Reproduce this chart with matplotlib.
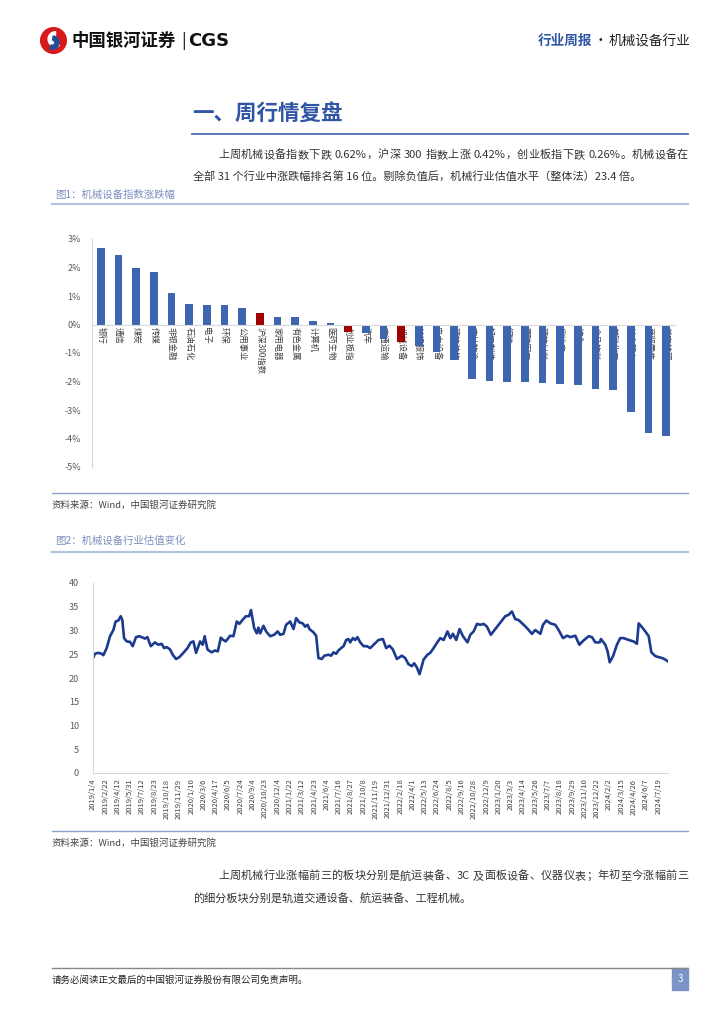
import re
import matplotlib
matplotlib.use('Agg')
import matplotlib.pyplot as plt
from matplotlib.lines import Line2D
from matplotlib.patches import Rectangle, Circle, Wedge

plt.rcParams['font.family'] = ['Noto Sans CJK SC', 'DejaVu Sans']

# 图1 data: weekly change by industry (%)
industries = ['银行', '通信', '煤炭', '传媒', '非银金融', '石油石化', '电子', '环保', '公用事业',
              '沪深300指数', '家用电器', '有色金属', '计算机', '医药生物', '创业板指', '汽车',
              '交通运输', '机械设备', '纺织服饰', '电力设备', '建筑装饰', '农林牧渔', '轻工制造',
              '钢铁', '国防军工', '建筑材料', '房地产', '综合', '食品饮料', '基础化工',
              '社会服务', '商贸零售', '美容护理']
chg = [2.70, 2.44, 1.97, 1.83, 1.10, 0.73, 0.68, 0.68, 0.57, 0.42, 0.28, 0.25, 0.11, 0.06,
       -0.26, -0.29, -0.50, -0.62, -0.75, -0.97, -1.25, -1.90, -1.99, -2.02, -2.02, -2.05,
       -2.10, -2.13, -2.28, -2.30, -3.07, -3.80, -3.92]
highlight = ['沪深300指数', '创业板指', '机械设备']

# 图2 data: PE (category position on the axis, value)
pe_pos = [0, 1.1, 3.0, 4.9, 5.9, 7.8, 9.7, 11.6, 12.9, 14.4, 15.8, 16.7, 17.7, 19.2, 21.1,
          22.6, 24.5, 26.4, 27.7, 29.6, 31.0, 32.9, 35.3, 37.2, 39.1, 40.5, 42.0, 43.9, 45.4,
          47.3, 49.2, 51.5, 53.8, 55.7, 57.2, 58.7, 61.0, 62.5, 63.6, 65.2, 67.6, 69.5, 71.1,
          72.8, 74.3, 75.6, 78.1, 80.0, 81.9, 83.4, 85.1, 87.0, 88.9, 90.0, 91.8, 93.3, 94.2,
          95.2, 97.1, 98.6, 100.9, 103.2, 105.2, 106.6, 108.5, 110.0, 112.3, 114.2, 115.7,
          117.6, 119.5, 120.8, 122.2, 123.3, 125.6, 127.1, 128.4, 130.3, 131.8, 134.1, 135.6,
          137.0, 138.5, 139.8, 141.3, 142.7, 144.2, 145.5, 146.5, 148.0, 149.3, 150.6, 152.2,
          154.1, 156.0,
          157.9, 159.8, 162.6, 165.1, 167.0, 168.9, 170.8, 173.1, 175.9, 177.8, 179.7, 181.6,
          182.9, 184.5, 186.0, 188.3, 190.5, 192.1, 194.0, 195.9, 197.8, 199.7, 201.9, 203.5,
          205.0, 206.9, 208.8, 210.7, 213.3, 214.9, 216.8, 218.7, 220.6, 222.5, 224.4, 226.6,
          229.1, 232.0, 234.8, 236.7, 238.6, 240.5, 242.4, 245.3, 247.2, 250.0, 251.9, 254.8,
          256.3, 258.2, 260.5, 263.3, 265.2, 267.7, 270.0, 271.9, 274.7, 277.0, 279.4, 282.3,
          284.2, 286.1, 288.6, 289.3, 291.8, 293.1, 294.3, 296.2, 298.4, 300.3, 302.2, 305.1,
          307.9, 309.8, 310.8, 312.7, 314.6, 316.5, 318.0, 320.3, 322.2, 324.1, 325.4, 327.5]
pe_val = [24.2, 25.1, 25.3, 25.1, 24.8, 26.3, 28.8, 30.1, 31.9, 32.1, 33.0, 32.2, 28.4, 27.7,
          27.6, 26.7, 28.6, 28.8, 28.6, 28.3, 28.6, 26.7, 27.5, 27.0, 27.2, 26.3, 26.5, 26.0,
          24.9, 24.0, 24.4, 25.3, 26.3, 27.5, 27.7, 25.3, 27.7, 27.0, 28.8, 26.0, 25.4, 25.8,
          25.6, 28.5, 28.0, 27.7, 28.9, 28.8, 31.9, 31.4, 32.2, 33.0, 33.0, 34.3, 30.5, 29.4,
          30.6, 29.4, 31.0, 29.8, 28.8, 29.1, 29.8, 29.1, 29.3, 31.2, 31.9, 30.3, 32.6, 31.7,
          31.5, 30.8, 31.2, 30.3, 29.6, 28.9, 24.2, 24.0, 24.7, 24.9, 24.7, 25.4, 25.1, 25.8,
          26.3, 26.7, 28.0, 28.2, 27.5, 28.4, 28.0, 28.6, 27.5, 26.7, 26.7,
          26.3, 27.0, 28.0, 28.2, 26.3, 26.8, 26.0, 24.0, 24.7, 24.2, 22.9, 22.5, 23.1, 22.2,
          20.8, 23.9, 24.9, 25.3, 26.3, 27.4, 28.4, 28.0, 29.8, 28.4, 29.3, 28.0, 30.3, 28.8,
          27.5, 29.1, 29.8, 31.4, 31.2, 31.4, 30.8, 29.1, 30.3, 31.7, 33.0, 33.3, 34.0, 32.4,
          32.2, 31.2, 30.5, 29.3, 30.1, 29.3, 31.2, 32.1, 31.5, 31.2, 30.1, 28.4, 28.9, 28.6,
          28.9, 27.0, 27.9, 28.8, 28.6, 27.5, 27.5, 28.2, 27.0, 25.6, 23.3, 24.6, 27.0, 28.4,
          28.4, 28.0, 27.7, 27.2, 31.5, 30.7, 29.8, 28.8, 25.4, 24.6, 24.4, 24.2, 24.0, 23.5]
date_labels = ['2019/1/4', '2019/2/22', '2019/4/12', '2019/5/31', '2019/7/12', '2019/8/23',
               '2019/10/18', '2019/11/29', '2020/1/10', '2020/3/6', '2020/4/17', '2020/6/5',
               '2020/7/24', '2020/9/4', '2020/10/23', '2020/12/4', '2021/1/22', '2021/3/12',
               '2021/4/23', '2021/6/4', '2021/7/16', '2021/8/27', '2021/10/8', '2021/11/19',
               '2021/12/31', '2022/2/18', '2022/4/1', '2022/5/13', '2022/6/24', '2022/8/5',
               '2022/9/16', '2022/10/28', '2022/12/9', '2023/1/20', '2023/3/3', '2023/4/14',
               '2023/5/26', '2023/7/7', '2023/8/18', '2023/9/29', '2023/11/10', '2023/12/22',
               '2024/2/2', '2024/3/15', '2024/4/26', '2024/6/7', '2024/7/19']
label_step = 7

W, H = 724, 1024
fig = plt.figure(figsize=(W / 100, H / 100), dpi=100)
BLUE = '#2f55a4'
TXT = '#333333'


def box(l, t, r, b):
    return [l / W, 1 - b / H, (r - l) / W, (b - t) / H]


def text(x, y, s, **kw):
    kw.setdefault('va', 'center')
    return fig.text(x / W, 1 - y / H, s, **kw)


def hline(x0, x1, y, color, lw):
    fig.add_artist(Line2D([x0 / W, x1 / W], [1 - y / H, 1 - y / H], color=color, lw=lw,
                          transform=fig.transFigure))


def justified(x0, x1, y, s, **kw):
    toks = re.findall(r'[A-Za-z0-9.%]+|.', s)
    r = fig.canvas.get_renderer()
    fs = kw.get('fontsize', 8)
    ws = []
    for t in toks:
        if t == ' ':
            ws.append(fs * 100 / 72 * 0.25)
            continue
        tt = text(0, 0, t, **kw)
        ws.append(tt.get_window_extent(r).width)
        tt.remove()
    gap = (x1 - x0 - sum(ws)) / (len(toks) - 1)
    x = x0
    for t, w in zip(toks, ws):
        if t != ' ':
            text(x, y, t, ha='left', **kw)
        x += w + gap


# header
logo = fig.add_axes(box(40, 27, 67, 54))
logo.set_xlim(-1, 1)
logo.set_ylim(-1, 1)
logo.set_aspect('equal')
logo.axis('off')
logo.add_patch(Circle((0, 0), 0.95, color='#d7191c'))
logo.add_patch(Wedge((0.15, 0.1), 0.55, 90, 300, width=0.28, color='white'))
logo.add_patch(Wedge((-0.1, -0.15), 0.5, 250, 80, width=0.3, color='#1f4e9c'))
text(71, 41, '中国银河证券', fontsize=12.5, fontweight='bold', color='#111111')
text(181, 41, '|', fontsize=12, color='#111111')
text(188, 41, 'CGS', fontsize=13, fontweight='bold', color='#111111', family='DejaVu Sans')
text(592, 41, '行业周报', fontsize=9.8, fontweight='bold', color=BLUE, ha='right')
text(600, 41, '·', fontsize=9.8, color='#222222', ha='center')
text(690, 41, '机械设备行业', fontsize=9.8, color='#222222', ha='right')

# title
text(192, 114, '一、周行情复盘', fontsize=15.5, fontweight='bold', color=BLUE, ha='left')
hline(192, 688, 134, '#4a70b8', 1.3)

justified(218, 688, 155, '上周机械设备指数下跌 0.62%，沪深 300 指数上涨 0.42%，创业板指下跌 0.26%。机械设备在',
          fontsize=8, color=TXT)
text(193, 176, '全部 31 个行业中涨跌幅排名第 16 位。剔除负值后，机械行业估值水平（整体法）23.4 倍。',
     fontsize=8, color=TXT, ha='left')

# figure 1
text(55, 195, '图1：机械设备指数涨跌幅', fontsize=7.5, color='#7d8fbd', ha='left')
hline(52, 688, 204, '#b4c3df', 1.6)

ax1 = fig.add_axes(box(92, 239, 675, 467))
xs = range(len(industries))
colors = ['#a00000' if n in highlight else '#3e66b0' for n in industries]
ax1.bar(xs, chg, width=0.42, color=colors, zorder=2)
ax1.set_xlim(-0.5, len(industries) - 0.5)
ax1.set_ylim(-5, 3)
ax1.set_yticks(range(-5, 4))
ax1.yaxis.set_major_formatter(lambda v, p: f'{v:.0f}%')
ax1.spines[['top', 'right']].set_visible(False)
ax1.spines['bottom'].set_position(('data', 0))
ax1.spines['bottom'].set_color('#d9d9d9')
ax1.spines['left'].set_color('#d9d9d9')
ax1.set_xticks(list(xs))
ax1.set_xticklabels(industries, rotation=-90, fontsize=6, color='#404040')
ax1.tick_params(axis='y', length=0, pad=8, labelsize=6.5, labelcolor='#595959')
ax1.tick_params(axis='x', length=0, pad=2)
ax1.patch.set_alpha(0)

hline(52, 688, 493, '#8fa3cc', 1.0)
text(52, 505, '资料来源：Wind，中国银河证券研究院', fontsize=6.8, color='#444444', ha='left',
     style='italic')

# figure 2
text(55, 541, '图2：机械设备行业估值变化', fontsize=7.5, color='#7d8fbd', ha='left')
hline(52, 688, 552, '#b4c3df', 1.6)

ax2 = fig.add_axes(box(93, 583, 668, 773))
ax2.plot(pe_pos, pe_val, color='#1c3a8e', lw=1.9)
ax2.set_xlim(0, 327.5)
ax2.set_ylim(0, 40)
ax2.set_yticks(range(0, 41, 5))
ax2.set_xticks([i * label_step for i in range(len(date_labels))])
ax2.set_xticklabels(date_labels, rotation=90, fontsize=5.5, color='#404040')
ax2.spines[['top', 'right']].set_visible(False)
ax2.spines['bottom'].set_color('#d9d9d9')
ax2.spines['left'].set_color('#d9d9d9')
ax2.tick_params(axis='y', length=0, pad=10, labelsize=6.5, labelcolor='#595959')
ax2.tick_params(axis='x', length=0, pad=4)

hline(52, 688, 831, '#8fa3cc', 1.0)
text(52, 843, '资料来源：Wind，中国银河证券研究院', fontsize=6.8, color='#444444', ha='left',
     style='italic')

justified(218, 688, 876, '上周机械行业涨幅前三的板块分别是航运装备、3C 及面板设备、仪器仪表；年初至今涨幅前三',
          fontsize=8, color=TXT)
text(193, 899, '的细分板块分别是轨道交通设备、航运装备、工程机械。', fontsize=8, color=TXT, ha='left')

# footer
hline(52, 688, 968, '#888888', 1.0)
text(52, 980, '请务必阅读正文最后的中国银河证券股份有限公司免责声明。', fontsize=6.8, color='#222222',
     ha='left')
fig.add_artist(Rectangle((672 / W, 1 - 990 / H), 16 / W, 22 / H, color='#7b93c7',
                         transform=fig.transFigure))
text(680, 979, '3', fontsize=7, color='white', ha='center')

fig.savefig('out.png', dpi=100)
